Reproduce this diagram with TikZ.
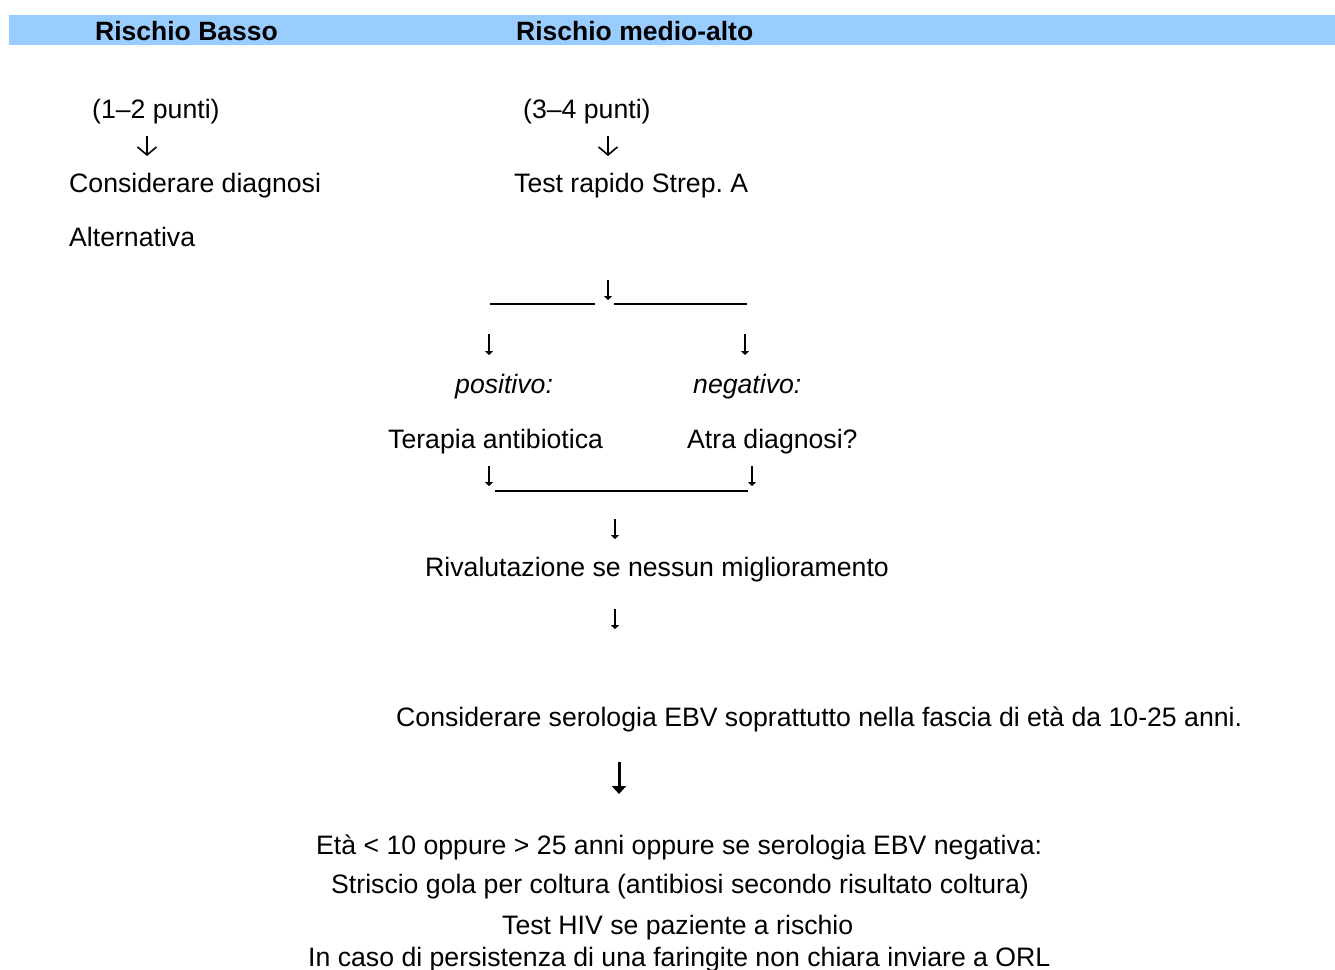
\documentclass[tikz,border=0pt]{standalone}
\usepackage{fontspec}
\setmainfont{Liberation Sans}
\usetikzlibrary{arrows.meta}
\definecolor{barblue}{HTML}{99CCFF}
\begin{document}
\begin{tikzpicture}[x=1pt,y=-1pt,
  txt/.style={anchor=base west, inner sep=0pt, font=\fontsize{26.65}{30}\selectfont},
  hdr/.style={txt, font=\fontsize{26.5}{30}\selectfont\bfseries},
  openarr/.style={line width=1.6pt, -{Straight Barb[length=8pt,width=19pt]}},
  thinarr/.style={line width=2pt, -{Triangle[length=4pt,width=8pt]}},
  bigarr/.style={line width=3pt, -{Triangle[length=8pt,width=14pt]}},
  rule/.style={line width=1.5pt}]
\useasboundingbox (0,0) rectangle (1335,969);
\fill[barblue] (9,15) rectangle (1335,45);
\node[hdr] (low) at (95,40) {Rischio Basso};
\node[hdr] (high) at (516,40) {Rischio medio-alto};
\node[txt] (p12) at (92,118) {(1--2 punti)};
\node[txt] (p34) at (523,118) {(3--4 punti)};
\node[txt] (diag) at (69,192) {Considerare diagnosi};
\node[txt] (alt) at (69,246) {Alternativa};
\node[txt] (test) at (514,192) {Test rapido Strep.\ A};
\node[txt] (pos) at (455,393) {\itshape positivo:};
\node[txt] (neg) at (693,393) {\itshape negativo:};
\node[txt] (ther) at (388,448) {Terapia antibiotica};
\node[txt] (other) at (687,448) {Atra diagnosi?};
\node[txt] (reval) at (425,576) {Rivalutazione se nessun miglioramento};
\node[txt] (ebv) at (396,726) {Considerare serologia EBV soprattutto nella fascia di età da 10-25 anni.};
\node[txt] (age) at (316,854) {Età < 10 oppure > 25 anni oppure se serologia EBV negativa:};
\node[txt] (swab) at (331,893) {Striscio gola per coltura (antibiosi secondo risultato coltura)};
\node[txt] (hiv) at (502,934) {Test HIV se paziente a rischio};
\node[txt] (orl) at (308,966) {In caso di persistenza di una faringite non chiara inviare a ORL};
\coordinate (a1s) at (147,136); \coordinate (a1e) at (147,156);
\coordinate (a2s) at (608,136); \coordinate (a2e) at (608,156);
\coordinate (a3s) at (608,280); \coordinate (a3e) at (608,300);
\coordinate (a4s) at (489,334); \coordinate (a4e) at (489,355);
\coordinate (a5s) at (745,334); \coordinate (a5e) at (745,355);
\coordinate (a6s) at (489,466); \coordinate (a6e) at (489,486);
\coordinate (a7s) at (752,466); \coordinate (a7e) at (752,486);
\coordinate (a8s) at (615,519); \coordinate (a8e) at (615,539);
\coordinate (a9s) at (615,609); \coordinate (a9e) at (615,629);
\coordinate (a10s) at (619,762); \coordinate (a10e) at (619,794);
\coordinate (r1a) at (490,304); \coordinate (r1b) at (595,304);
\coordinate (r2a) at (614,304); \coordinate (r2b) at (747,304);
\coordinate (r3a) at (495,491); \coordinate (r3b) at (748,491);
\draw[openarr] (a1s)--(a1e);
\draw[openarr] (a2s)--(a2e);
\draw[thinarr] (a3s)--(a3e);
\draw[thinarr] (a4s)--(a4e);
\draw[thinarr] (a5s)--(a5e);
\draw[thinarr] (a6s)--(a6e);
\draw[thinarr] (a7s)--(a7e);
\draw[thinarr] (a8s)--(a8e);
\draw[thinarr] (a9s)--(a9e);
\draw[bigarr] (a10s)--(a10e);
\draw[rule] (r1a)--(r1b);
\draw[rule] (r2a)--(r2b);
\draw[rule] (r3a)--(r3b);
\end{tikzpicture}
\end{document}
